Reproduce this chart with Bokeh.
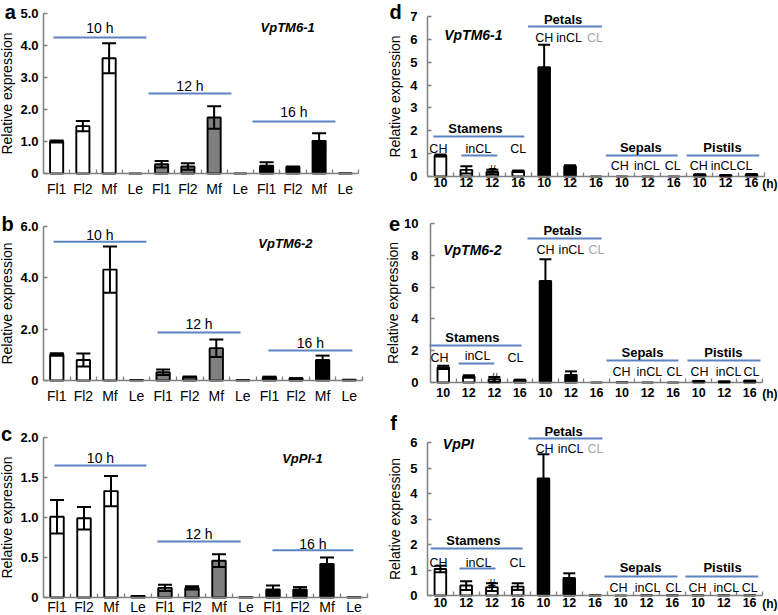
from bokeh.plotting import figure
from bokeh.models import Range1d, FixedTicker, Whisker, TeeHead, ColumnDataSource, Label
from bokeh.layouts import column, row
from bokeh.embed import file_html
from bokeh.resources import INLINE

FONT = "Liberation Sans"
BLUE = "#5b84c0"
AXIS = "#808080"
GRAY_BAR = "#7f7f7f"

# ---------------- data ----------------
left_labels = ["Fl1", "Fl2", "Mf", "Le", "Fl1", "Fl2", "Mf", "Le", "Fl1", "Fl2", "Mf", "Le"]
left_fills = ["white"] * 4 + [GRAY_BAR] * 4 + ["black"] * 4

tm61_tissue = [1.00, 1.48, 3.60, 0.00, 0.29, 0.22, 1.75, 0.00, 0.24, 0.20, 1.02, 0.01]
tm61_tissue_err = [0.03, 0.16, 0.47, 0.00, 0.10, 0.10, 0.35, 0.00, 0.11, 0.02, 0.24, 0.00]

tm62_tissue = [1.01, 0.80, 4.32, 0.02, 0.32, 0.14, 1.26, 0.02, 0.12, 0.08, 0.80, 0.03]
tm62_tissue_err = [0.05, 0.25, 0.90, 0.00, 0.11, 0.02, 0.34, 0.00, 0.03, 0.01, 0.17, 0.00]

pi1_tissue = [1.01, 0.99, 1.33, 0.02, 0.12, 0.12, 0.46, 0.005, 0.10, 0.10, 0.42, 0.005]
pi1_tissue_err = [0.21, 0.14, 0.19, 0.00, 0.04, 0.02, 0.08, 0.00, 0.05, 0.03, 0.08, 0.00]

right_labels = ["10", "12", "12", "16", "10", "12", "16", "10", "12", "16", "10", "12", "16"]
right_fills = ["white"] * 4 + ["black"] * 9

tm61_organ = [0.92, 0.29, 0.20, 0.23, 4.78, 0.45, 0.0, 0.0, 0.0, 0.0, 0.08, 0.05, 0.08]
tm61_organ_err = [0.04, 0.16, 0.10, 0.03, 0.98, 0.04, 0, 0, 0, 0, 0.02, 0.02, 0.03]

tm62_organ = [0.95, 0.38, 0.20, 0.15, 6.38, 0.48, 0.0, 0.02, 0.0, 0.0, 0.08, 0.05, 0.09]
tm62_organ_err = [0.10, 0.08, 0.15, 0.03, 1.37, 0.22, 0, 0, 0, 0, 0.02, 0.02, 0.03]

pi_organ = [1.04, 0.39, 0.33, 0.35, 4.59, 0.69, 0.01, 0.0, 0.01, 0.01, 0.01, 0.01, 0.01]
pi_organ_err = [0.13, 0.17, 0.15, 0.13, 0.95, 0.18, 0, 0, 0, 0, 0, 0, 0]

hash_index = 3  # bar marked with '#'


def make_panel(geom, ymax, yticks, yticklabels, xlabels, vals, errs, fills,
               bar_w, y_std, ylab_std, ylab_size, x_std, x_font, x_style, head):
    W, H, xl, xr, yt, yb = geom
    n = len(xlabels)
    ppx = (xr - xl) / n
    ppy = (yb - yt) / ymax
    x0 = 0.5 - xl / ppx
    x1 = n + 0.5 + (W - xr) / ppx
    y1 = ymax + yt / ppy
    y0 = -(H - yb) / ppy
    p = figure(width=W, height=H, x_range=Range1d(x0, x1), y_range=Range1d(y0, y1),
               output_backend="svg", toolbar_location=None, title=None, min_border=0)
    p.xgrid.visible = False
    p.ygrid.visible = False
    p.outline_line_color = None
    p.background_fill_color = "white"
    p.border_fill_color = "white"

    xs = list(range(1, n + 1))
    src = ColumnDataSource(dict(x=xs, top=vals, fill=fills))
    p.vbar(x="x", top="top", bottom=0, width=bar_w, fill_color="fill",
           line_color="black", line_width=1.9, source=src)

    ex = [x for x, e in zip(xs, errs) if e > 0]
    eu = [v + e for v, e in zip(vals, errs) if e > 0]
    el = [max(0, v - e) for v, e in zip(vals, errs) if e > 0]
    wsrc = ColumnDataSource(dict(x=ex, upper=eu, lower=el))
    wh = Whisker(base="x", upper="upper", lower="lower", source=wsrc,
                 line_color="black", line_width=2,
                 upper_head=TeeHead(size=head, line_width=2, line_color="black"),
                 lower_head=TeeHead(size=head, line_width=2, line_color="black"))
    wh.level = "overlay"
    p.add_layout(wh)

    xa = p.xaxis[0]
    xa.fixed_location = 0
    xa.bounds = (0.5, n + 0.5)
    xa.ticker = FixedTicker(ticks=xs, minor_ticks=[i + 0.5 for i in range(1, n + 1)])
    xa.major_label_overrides = {x: lab for x, lab in zip(xs, xlabels)}
    xa.major_tick_in = 0
    xa.major_tick_out = 0
    xa.minor_tick_in = 4
    xa.minor_tick_out = 0
    xa.minor_tick_line_color = AXIS
    xa.minor_tick_line_width = 1.3
    xa.axis_line_color = AXIS
    xa.axis_line_width = 1.5
    xa.major_label_standoff = x_std
    xa.major_label_text_font = FONT
    xa.major_label_text_font_size = x_font
    xa.major_label_text_font_style = x_style
    xa.major_label_text_color = "black"

    ya = p.yaxis[0]
    ya.fixed_location = 0.5
    ya.bounds = (0, ymax)
    ya.ticker = FixedTicker(ticks=yticks)
    ya.major_label_overrides = {t: lab for t, lab in zip(yticks, yticklabels)}
    ya.major_tick_in = 4
    ya.major_tick_out = 0
    ya.minor_tick_line_color = None
    ya.major_tick_line_color = AXIS
    ya.major_tick_line_width = 1.3
    ya.axis_line_color = AXIS
    ya.axis_line_width = 1.5
    ya.major_label_standoff = y_std
    ya.major_label_text_font = FONT
    ya.major_label_text_font_size = "13px"
    ya.major_label_text_font_style = "bold"
    ya.major_label_text_color = "black"
    ya.axis_label = "Relative expression"
    ya.axis_label_text_font = FONT
    ya.axis_label_text_font_size = ylab_size
    ya.axis_label_text_font_style = "normal"
    ya.axis_label_text_color = "black"
    ya.axis_label_standoff = ylab_std
    return p, x1, y1


def add_lines(p, lines):
    x0 = [l[0] for l in lines]
    x1 = [l[1] for l in lines]
    yy = [l[2] for l in lines]
    p.segment(x0=x0, y0=yy, x1=x1, y1=yy, line_color=BLUE, line_width=2)


def txt(p, s, x, y, size=13, style="normal", color="black", align="center", baseline="middle"):
    p.add_layout(Label(x=x, y=y, text=s, text_font=FONT, text_font_size=f"{size}px",
                       text_font_style=style, text_color=color, text_align=align,
                       text_baseline=baseline))


def add_letter(p, letter, ytop):
    s, x, y = letter
    if y is None:
        txt(p, s, x, ytop, size=20, style="bold", baseline="top")
    else:
        txt(p, s, x, y, size=20, style="bold")


# ---------------- left panels ----------------
def left_panel(geom, ymax, yticks, ytl, vals, errs, lines, hlabels, gene, letter, x_std):
    p, _, ytop = make_panel(geom, ymax, yticks, ytl, left_labels, vals, errs, left_fills,
                            0.5, 5, 2, "14px", x_std, "14px", "normal", 14)
    add_lines(p, lines)
    for s, x, y in hlabels:
        txt(p, s, x, y, size=14)
    txt(p, gene[0], gene[1], gene[2], size=13, style="bold italic")
    add_letter(p, letter, ytop)
    return p


pa = left_panel((385, 205, 43, 358, 13, 173), 5, [0, 1, 2, 3, 4, 5],
                ["0", "1.0", "2.0", "3.0", "4.0", "5.0"],
                tm61_tissue, tm61_tissue_err,
                [(0.88, 4.42, 4.25), (4.5, 7.66, 2.5), (8.46, 11.62, 1.625)],
                [("10 h", 2.65, 4.56), ("12 h", 6.08, 2.75), ("16 h", 10.04, 1.91)],
                ("VpTM6-1", 9.8, 4.56), ("a", -0.76, None), 7)

pb = left_panel((385, 205, 43, 362, 21, 175), 6, [0, 2, 4, 6], ["0", "2.0", "4.0", "6.0"],
                tm62_tissue, tm62_tissue_err,
                [(0.88, 4.37, 5.41), (4.79, 7.91, 1.87), (8.96, 12.12, 1.17)],
                [("10 h", 2.62, 5.67), ("12 h", 6.35, 2.22), ("16 h", 10.54, 1.48)],
                ("VpTM6-2", 9.6, 5.34), ("b", -0.85, 6.08), 7)

pc = left_panel((385, 205, 43, 367, 27, 187), 2, [0, 0.5, 1, 1.5, 2],
                ["0", "0.5", "1.0", "1.5", "2.0"],
                pi1_tissue, pi1_tissue_err,
                [(0.91, 4.31, 1.65), (4.72, 7.8, 0.7), (8.98, 11.98, 0.59)],
                [("10 h", 2.61, 1.74), ("12 h", 6.26, 0.79), ("16 h", 10.48, 0.675)],
                ("VpPI-1", 10.09, 1.74), ("c", -0.87, 2.05), 1)


# ---------------- right panels ----------------
def right_panel(geom, ymax, yticks, vals, errs, y_std, ylab_std, x_std, lines, labels,
                hy, gene, letter):
    p, xend, ytop = make_panel(geom, ymax, yticks, [str(t) for t in yticks], right_labels, vals,
                               errs, right_fills, 0.45, y_std, ylab_std, "14px", x_std,
                               "12.5px", "bold", 12)
    add_lines(p, lines)
    for s, x, y, style, color in labels:
        txt(p, s, x, y, size=13 if style == "bold" else 12.5, style=style, color=color)
    txt(p, "(h)", xend - 0.04, hy, size=12, style="bold", align="right")
    i = hash_index - 1
    txt(p, "#", hash_index, vals[i] + 0.7 * errs[i], size=14)
    txt(p, gene[0], gene[1], gene[2], size=14, style="bold italic")
    add_letter(p, letter, ytop)
    return p


def organ_labels(st, ch, incl, cl, pet, pet_sub, sep, sep_sub, pis, pis_sub):
    N, B = "normal", "bold"
    K, G = "black", "#a6a6a6"
    return [("Stamens", st[0], st[1], B, K),
            ("CH", ch[0], ch[1], N, K), ("inCL", incl[0], incl[1], N, K), ("CL", cl[0], cl[1], N, K),
            ("Petals", pet[0], pet[1], B, K),
            ("CH", pet_sub[0], pet_sub[3], N, K), ("inCL", pet_sub[1], pet_sub[3], N, K),
            ("CL", pet_sub[2], pet_sub[3], N, G),
            ("Sepals", sep[0], sep[1], B, K),
            ("CH", sep_sub[0], sep_sub[3], N, K), ("inCL", sep_sub[1], sep_sub[3], N, K),
            ("CL", sep_sub[2], sep_sub[3], N, K),
            ("Pistils", pis[0], pis[1], B, K),
            ("CH", pis_sub[0], pis_sub[3], N, K), ("inCL", pis_sub[1], pis_sub[3], N, K),
            ("CL", pis_sub[2], pis_sub[3], N, K)]


pd_ = right_panel((393, 205, 42, 379, 16, 176), 7, [0, 1, 2, 3, 4, 5, 6, 7],
                  tm61_organ, tm61_organ_err, 10, 4, 1,
                  [(0.73, 4.23, 1.75), (1.81, 3.19, 0.92), (4.38, 7.23, 6.56),
                   (7.38, 10.15, 0.92), (10.5, 13.3, 0.92)],
                  organ_labels((2.35, 2.12), (0.92, 1.2), (2.46, 1.2), (4.0, 1.2),
                               (5.73, 6.89), (5.0, 5.96, 6.96, 6.04),
                               (8.73, 1.25), (7.92, 8.96, 9.96, 0.48),
                               (11.88, 1.25), (10.96, 11.92, 12.73, 0.48)),
                  -0.31, ("VpTM6-1", 2.27, 6.21), ("d", -0.73, None))

pe = right_panel((393, 205, 45, 377, 18, 177), 10, [0, 2, 4, 6, 8, 10],
                 tm62_organ, tm62_organ_err, 12, 0, 5,
                 [(0.46, 4.06, 2.33), (1.6, 3.0, 1.19), (4.3, 7.2, 9.06),
                  (7.39, 10.21, 1.38), (10.56, 13.42, 1.38)],
                 organ_labels((2.14, 2.83), (0.85, 1.51), (2.34, 1.67), (3.83, 1.51),
                              (5.67, 9.56), (5.0, 6.02, 7.0, 8.36),
                              (8.8, 1.89), (7.98, 9.07, 10.05, 0.63),
                              (11.97, 1.89), (11.03, 12.17, 13.07, 0.63)),
                 -0.75, ("VpTM6-2", 2.14, 8.36), ("e", -0.91, 9.94))

pf = right_panel((393, 205, 42, 377, 32, 185), 6, [0, 1, 2, 3, 4, 5, 6],
                 pi_organ, pi_organ_err, 10, 4, 2,
                 [(0.62, 4.19, 1.84), (1.74, 3.14, 1.06), (4.42, 7.29, 6.16),
                  (7.37, 10.2, 0.75), (10.51, 13.34, 0.75)],
                 organ_labels((2.28, 2.16), (0.93, 1.27), (2.48, 1.27), (3.99, 1.27),
                              (5.78, 6.45), (5.04, 6.05, 7.02, 5.75),
                              (8.77, 1.1), (7.91, 9.04, 10.05, 0.31),
                              (11.95, 1.1), (10.98, 12.1, 13.0, 0.31)),
                 -0.35, ("VpPI", 1.7, 5.96), ("f", -0.82, 6.78))

layout = column(row(pa, pd_), row(pb, pe), row(pc, pf))

with open("out.html", "w") as f:
    f.write(file_html(layout, INLINE))
